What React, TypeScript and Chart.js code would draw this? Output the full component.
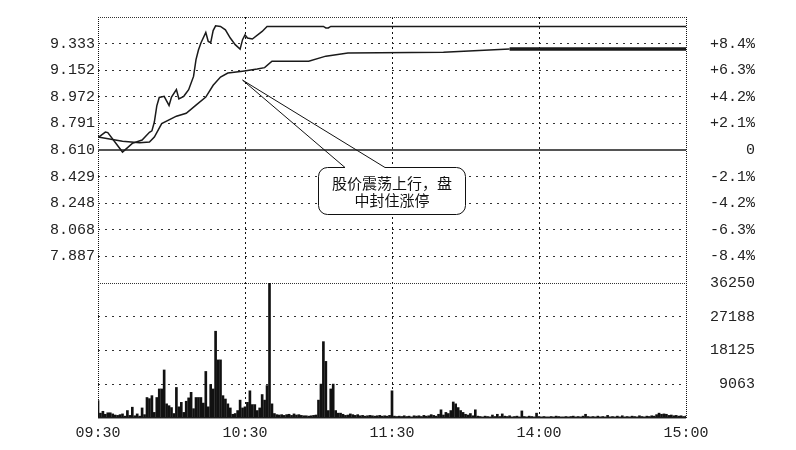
import React, { useEffect, useRef } from 'react';
import { Chart, registerables } from 'chart.js';

Chart.register(...registerables);

// ---- axis ticks ----
const xTickMinutes = [0, 60, 120, 180, 240];
const xTickLabels = ['09:30', '10:30', '11:30', '14:00', '15:00'];

const prevClose = 8.61;
const priceMin = 7.706;
const priceMax = 9.514;
const priceTicks = [7.887, 8.068, 8.248, 8.429, 8.61, 8.791, 8.972, 9.152, 9.333];
const priceTickLabels = ['7.887', '8.068', '8.248', '8.429', '8.610', '8.791', '8.972', '9.152', '9.333'];
const pctTickLabels = ['-8.4%', '-6.3%', '-4.2%', '-2.1%', '0', '+2.1%', '+4.2%', '+6.3%', '+8.4%'];

const volMax = 36250;
const volTicks = [0, 9063, 18125, 27188, 36250];
const volTickLabels = ['', '9063', '18125', '27188', '36250'];

// ---- price line (minute from 09:30, price) ----
const priceMinutes = [0, 3, 4, 10, 14, 18, 21, 22, 23, 24, 25, 27, 29, 30, 32, 33, 35, 37, 39, 40, 41, 42, 44, 45, 46, 47, 48, 50, 52, 54, 56, 58, 59, 60, 61, 63, 67, 69, 92, 93, 94, 95, 240];
const priceValues = [8.694, 8.732, 8.728, 8.596, 8.655, 8.678, 8.73, 8.74, 8.8, 8.91, 8.967, 8.975, 8.913, 8.97, 9.021, 8.958, 8.975, 9.02, 9.11, 9.224, 9.29, 9.337, 9.409, 9.348, 9.34, 9.422, 9.454, 9.45, 9.427, 9.371, 9.326, 9.296, 9.36, 9.393, 9.371, 9.364, 9.416, 9.45, 9.45, 9.44, 9.44, 9.45, 9.45];

// ---- average price line ----
const avgMinutes = [0, 10, 17, 21, 23, 26, 32, 36, 40, 44, 47, 50, 53, 59, 65, 68, 71, 86, 93, 102, 141, 168, 240];
const avgValues = [8.698, 8.67, 8.66, 8.664, 8.698, 8.79, 8.84, 8.86, 8.915, 8.97, 9.05, 9.106, 9.133, 9.146, 9.16, 9.17, 9.214, 9.214, 9.248, 9.269, 9.275, 9.296, 9.296];

// ---- volume per minute (0..240) ----
const volumes = [
  4700, 1300, 1800, 1000, 1400, 1400, 1100, 800, 700, 900,
  1100, 500, 2000, 700, 2900, 600, 1100, 500, 2700, 900,
  5500, 5200, 6000, 1500, 5500, 7800, 7800, 12900, 3800, 3300,
  2800, 1200, 8200, 3000, 4200, 1500, 4500, 5400, 6900, 2500,
  5500, 5500, 5500, 4000, 12500, 3000, 9000, 7800, 23300, 15600,
  15600, 6000, 5100, 3800, 2700, 1000, 1200, 2000, 4800, 2700,
  3000, 4200, 7300, 3600, 3600, 2000, 2700, 6300, 4800, 8700,
  36250, 3800, 1200, 900, 800, 900, 700, 900, 1000, 700,
  1100, 800, 900, 700, 600, 600, 500, 600, 700, 800,
  4800, 9100, 20500, 15200, 2000, 7800, 9100, 2000, 1300, 1300,
  1000, 700, 800, 1100, 900, 700, 900, 600, 700, 500,
  600, 700, 600, 500, 600, 700, 500, 600, 500, 700,
  7300, 500, 400, 500, 400, 600, 400, 500, 300, 600,
  500, 600, 400, 700, 500, 600, 900, 700, 500, 1000,
  2200, 800, 1500, 1200, 2000, 4300, 3800, 2800, 2000, 1500,
  1000, 800, 1200, 600, 2200, 500, 400, 300, 500, 400,
  300, 800, 400, 1000, 400, 1100, 500, 400, 600, 300,
  400, 500, 300, 1900, 400, 300, 500, 400, 300, 1300,
  400, 300, 400, 300, 300, 400, 300, 500, 400, 300,
  300, 400, 300, 400, 500, 300, 400, 300, 500, 1000,
  400, 300, 400, 300, 500, 300, 400, 300, 700, 300,
  400, 300, 500, 300, 600, 300, 400, 300, 500, 400,
  300, 600, 400, 300, 500, 400, 600, 500, 900, 1300,
  1000, 1100, 1000, 700, 800, 600, 700, 500, 600, 400,
  500,
];

// ---- callout ----
const calloutLines = ['股价震荡上行，盘', '中封住涨停'];
const calloutMinute = 59;
const calloutPrice = 9.085;

const MONO = 'Liberation Mono';
const TEXT = '#222';
const DOT = '#333';

const calloutPlugin = {
  id: 'callout',
  afterDraw(chart: any) {
    const { ctx } = chart;
    const xs = chart.scales.x;
    const ys = chart.scales.yPrice;
    const tipX = xs.getPixelForValue(calloutMinute);
    const tipY = ys.getPixelForValue(calloutPrice);
    const bx = 318.5, by = 167.5, bw = 147, bh = 47, r = 9;
    const g1 = 345, g2 = 385;
    ctx.save();
    ctx.beginPath();
    ctx.roundRect(bx, by, bw, bh, r);
    ctx.fillStyle = '#fff';
    ctx.fill();
    ctx.beginPath();
    ctx.moveTo(g2, by);
    ctx.lineTo(bx + bw - r, by);
    ctx.arcTo(bx + bw, by, bx + bw, by + r, r);
    ctx.lineTo(bx + bw, by + bh - r);
    ctx.arcTo(bx + bw, by + bh, bx + bw - r, by + bh, r);
    ctx.lineTo(bx + r, by + bh);
    ctx.arcTo(bx, by + bh, bx, by + bh - r, r);
    ctx.lineTo(bx, by + r);
    ctx.arcTo(bx, by, bx + r, by, r);
    ctx.lineTo(g1, by);
    ctx.lineTo(tipX, tipY);
    ctx.lineTo(g2, by);
    ctx.strokeStyle = '#111';
    ctx.lineWidth = 1;
    ctx.stroke();
    ctx.fillStyle = '#111';
    ctx.font = '15px "Noto Sans CJK SC"';
    ctx.textAlign = 'center';
    ctx.textBaseline = 'middle';
    ctx.fillText(calloutLines[0], bx + bw / 2, 183);
    ctx.fillText(calloutLines[1], bx + bw / 2, 200);
    ctx.restore();
  },
};

export default function App() {
  const ref = useRef<HTMLCanvasElement>(null);

  useEffect(() => {
    if (!ref.current) return;
    const tickFont = { family: MONO, size: 15 };
    const fixW = (w: number) => (s: any) => {
      s.width = w;
      s.paddingTop = 0;
      s.paddingBottom = 0;
    };
    const chart = new Chart(ref.current, {
      type: 'line',
      data: {
        datasets: [
          {
            type: 'line',
            data: priceMinutes.map((m, i) => ({ x: m, y: priceValues[i] })),
            yAxisID: 'yPrice',
            xAxisID: 'x',
            borderColor: '#1a1a1a',
            borderWidth: 1.5,
            pointRadius: 0,
            tension: 0,
          },
          {
            type: 'line',
            data: avgMinutes.map((m, i) => ({ x: m, y: avgValues[i] })),
            yAxisID: 'yPrice',
            xAxisID: 'x',
            borderColor: '#1a1a1a',
            borderWidth: 1.5,
            pointRadius: 0,
            tension: 0,
            segment: {
              borderWidth: (c: any) => (c.p0.parsed.x >= 168 ? 3.5 : 1.5),
            },
          },
          {
            type: 'bar',
            data: volumes.map((v, i) => ({ x: i, y: v })),
            yAxisID: 'yVol',
            xAxisID: 'x',
            backgroundColor: '#111',
            borderWidth: 0,
            barThickness: 2,
          } as any,
        ],
      },
      options: {
        animation: false,
        responsive: false,
        layout: { padding: { top: 17, left: 0, right: 41, bottom: 0 } },
        plugins: { legend: { display: false }, tooltip: { enabled: false } },
        scales: {
          x: {
            type: 'linear',
            min: 0,
            max: 240,
            offset: false,
            afterBuildTicks: (s: any) => {
              s.ticks = xTickMinutes.map((v) => ({ value: v }));
            },
            afterFit: (s: any) => {
              s.height = 32;
              s.paddingLeft = 0;
              s.paddingRight = 0;
            },
            ticks: {
              autoSkip: false,
              maxRotation: 0,
              font: tickFont,
              color: TEXT,
              padding: 6,
              callback: (_v: any, i: number) => xTickLabels[i],
            },
            grid: {
              offset: false,
              drawTicks: false,
              color: '#111',
              lineWidth: 1,
            },
            border: {
              display: false,
              dash: (c: any) => {
                const v = c.tick ? c.tick.value : -1;
                return v === 0 || v === 240 ? [1, 1] : [2, 3];
              },
            },
          },
          yVolL: {
            type: 'linear',
            position: 'left',
            stack: 'L',
            stackWeight: 135,
            min: 0,
            max: volMax,
            afterFit: fixW(98),
            ticks: { display: false },
            grid: { display: false },
            border: { display: false },
          },
          yPrice: {
            type: 'linear',
            position: 'left',
            stack: 'L',
            stackWeight: 266,
            min: priceMin,
            max: priceMax,
            afterBuildTicks: (s: any) => {
              s.ticks = [...priceTicks, priceMax].map((v) => ({ value: v }));
            },
            afterFit: fixW(98),
            ticks: {
              autoSkip: false,
              font: tickFont,
              color: TEXT,
              padding: 3,
              callback: (_v: any, i: number) => (i < priceTickLabels.length ? priceTickLabels[i] : ''),
            },
            grid: {
              drawTicks: false,
              color: (c: any) => (c.tick && c.tick.value === prevClose ? '#555' : DOT),
              lineWidth: (c: any) => (c.tick && c.tick.value === prevClose ? 2 : 1),
            },
            border: {
              display: false,
              dash: (c: any) => {
                const v = c.tick ? c.tick.value : -1;
                if (v === prevClose) return [];
                if (v === priceMax) return [1, 1];
                return [2, 5];
              },
            },
          },
          yPct: {
            type: 'linear',
            position: 'right',
            stack: 'R',
            stackWeight: 266,
            min: priceMin,
            max: priceMax,
            afterBuildTicks: (s: any) => {
              s.ticks = priceTicks.map((v) => ({ value: v }));
            },
            afterFit: fixW(69),
            ticks: {
              autoSkip: false,
              font: tickFont,
              color: TEXT,
              padding: 10,
              crossAlign: 'far',
              callback: (_v: any, i: number) => pctTickLabels[i],
            },
            grid: { display: false },
            border: { display: false },
          },
          yVol: {
            type: 'linear',
            position: 'right',
            stack: 'R',
            stackWeight: 135,
            min: 0,
            max: volMax,
            afterBuildTicks: (s: any) => {
              s.ticks = volTicks.map((v) => ({ value: v }));
            },
            afterFit: fixW(69),
            ticks: {
              autoSkip: false,
              font: tickFont,
              color: TEXT,
              padding: 10,
              crossAlign: 'far',
              callback: (_v: any, i: number) => volTickLabels[i],
            },
            grid: {
              drawTicks: false,
              color: (c: any) => (c.tick && c.tick.value === 0 ? '#333' : DOT),
              lineWidth: (c: any) => (c.tick && c.tick.value === 0 ? 1.5 : 1),
            },
            border: {
              display: false,
              dash: (c: any) => {
                const v = c.tick ? c.tick.value : -1;
                if (v === 0) return [];
                if (v === volMax) return [1, 1];
                return [2, 5];
              },
            },
          },
        } as any,
      },
      plugins: [calloutPlugin],
    });
    return () => chart.destroy();
  }, []);

  return (
    <div style={{ position: 'absolute', left: 0, top: 0, width: 796, height: 450, background: '#fff' }}>
      <canvas ref={ref} width={796} height={450} />
    </div>
  );
}
